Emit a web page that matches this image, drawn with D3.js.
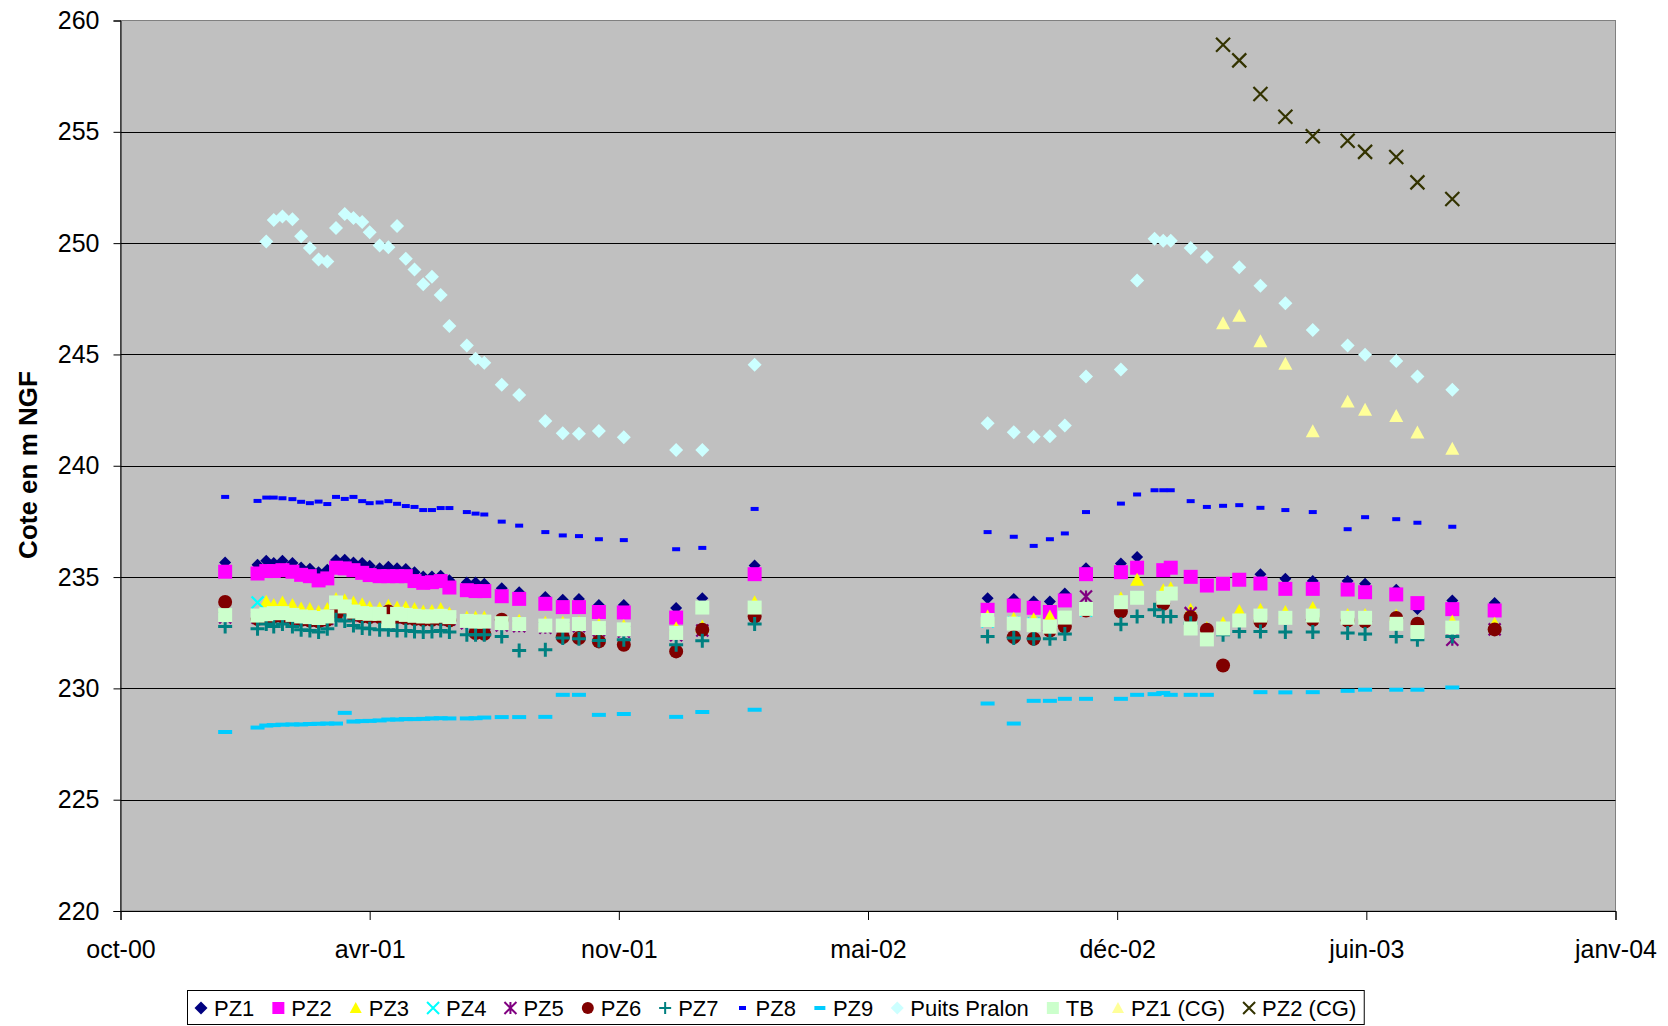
<!DOCTYPE html>
<html><head><meta charset="utf-8">
<script src="https://cdn.jsdelivr.net/npm/d3@7/dist/d3.min.js"></script>
<style>
body{margin:0;background:#fff}
svg{display:block}
text{font-family:"Liberation Sans",Arial,sans-serif;fill:#000}
</style>
</head><body>
<svg id="chart" width="1668" height="1026"></svg>
<script>
const _ = null;
const dates = [
"2000-12-24","2001-01-19","2001-01-26","2001-02-01","2001-02-08","2001-02-16","2001-02-23","2001-03-02","2001-03-09","2001-03-16",
"2001-03-23","2001-03-30","2001-04-06","2001-04-13","2001-04-19","2001-04-27","2001-05-04","2001-05-11","2001-05-18","2001-05-25",
"2001-06-01","2001-06-08","2001-06-15","2001-06-22","2001-07-06","2001-07-13","2001-07-20","2001-08-03","2001-08-17","2001-09-07",
"2001-09-21","2001-10-04","2001-10-20","2001-11-09","2001-12-21","2002-01-11","2002-02-22","2002-08-28","2002-09-18","2002-10-04",
"2002-10-17","2002-10-29","2002-11-15","2002-12-13","2002-12-26","2003-01-09","2003-01-16","2003-01-22","2003-02-07","2003-02-20",
"2003-03-05","2003-03-18","2003-04-04","2003-04-24","2003-05-16","2003-06-13","2003-06-27","2003-07-22","2003-08-08","2003-09-05",
"2003-10-09"];

const pz1 = [
235.65,235.55,235.73,235.63,235.73,235.63,235.43,235.37,235.22,235.33,
235.77,235.78,235.65,235.63,235.51,235.40,235.46,235.40,235.36,235.22,
235.03,235.03,235.06,234.86,234.76,234.76,234.70,234.50,234.32,234.11,
233.98,234.02,233.75,233.75,233.61,234.05,235.52,234.05,234.02,233.90,
233.90,234.26,235.40,235.61,235.90,_,_,_,_,_,
_,_,235.13,234.92,234.82,234.82,234.70,234.43,233.57,233.95,
233.83];
const pz2 = [
235.24,235.16,235.27,235.27,235.31,235.24,235.10,235.04,234.85,234.94,
235.42,235.39,235.31,235.19,235.09,235.04,235.04,235.04,235.04,234.82,
234.74,234.77,234.82,234.53,234.41,234.37,234.37,234.14,234.02,233.80,
233.65,233.65,233.43,233.41,233.18,_,235.13,233.53,233.72,233.62,
233.43,233.95,235.13,235.22,235.42,_,235.31,235.42,235.01,234.62,
234.70,234.88,234.71,234.47,234.47,234.44,234.32,234.22,233.83,233.56,
233.50];
const pz3 = [
_,_,233.89,233.74,233.86,233.74,233.59,233.56,233.44,233.56,
234.01,233.96,233.86,233.78,233.63,233.59,233.71,233.63,233.63,233.56,
233.45,233.48,233.56,233.36,233.18,233.18,233.18,233.00,233.04,232.95,
232.95,232.95,232.85,232.80,232.70,232.78,233.87,233.23,233.13,233.10,
233.23,_,_,234.05,234.88,_,234.41,234.50,233.53,232.71,
232.93,233.48,233.53,233.43,233.61,233.30,233.30,233.27,_,233.00,
232.90];
const pz4 = [
_,233.86,_,_,_,_,_,_,_,_,
_,233.55,_,_,_,_,_,_,_,_,
_,_,233.20,_,_,233.00,_,_,232.90,_,
_,_,232.70,_,232.50,_,_,233.00,232.95,232.90,
_,_,233.50,233.70,_,_,234.05,_,_,_,
_,_,_,_,_,_,_,_,_,232.70,
_];
const pz5 = [
233.19,233.17,233.23,233.28,233.28,233.20,233.13,233.10,233.06,233.13,
233.76,233.58,233.35,233.28,233.25,233.25,232.92,233.25,233.20,233.16,
233.13,233.13,233.16,233.10,232.93,232.90,232.90,232.83,232.79,232.72,
232.72,232.79,232.61,232.55,232.39,232.60,_,_,_,_,
_,_,234.13,_,_,_,_,_,233.38,_,
_,_,_,_,_,_,_,_,_,232.18,
232.65];
const pz6 = [
233.88,233.12,233.18,233.23,233.23,233.15,233.08,233.05,233.01,233.08,
233.30,233.53,233.30,233.23,233.20,233.20,233.45,233.20,233.15,233.11,
233.08,233.08,233.11,233.05,_,232.48,232.45,233.08,_,_,
232.30,232.26,232.11,231.96,231.66,232.63,233.23,_,232.30,232.23,
232.60,232.78,233.50,233.45,_,_,233.80,_,233.20,232.63,
231.03,_,233.00,_,233.08,233.05,233.00,233.16,232.90,_,
232.65];
const pz7 = [
232.78,232.68,232.89,232.78,232.89,232.78,232.63,232.60,232.53,232.68,
233.08,233.03,232.82,232.71,232.68,232.63,232.63,232.60,232.60,232.56,
232.53,232.56,232.60,232.53,232.41,232.41,232.41,232.33,231.70,231.73,
232.26,232.23,232.15,232.18,231.96,232.14,232.89,232.33,232.26,232.23,
232.23,232.44,_,232.88,233.23,233.53,233.23,233.23,232.93,_,
232.41,232.56,232.56,232.53,232.53,232.49,232.44,232.33,232.18,232.33,
_];
const pz8 = [
238.60,238.42,238.57,238.57,238.54,238.50,238.38,238.32,238.39,238.28,
238.60,238.51,238.60,238.41,238.32,238.35,238.41,238.29,238.19,238.15,
238.01,238.01,238.10,238.10,237.92,237.85,237.81,237.49,237.31,237.02,
236.87,236.84,236.70,236.66,236.25,236.31,238.06,237.02,236.81,236.40,
236.70,236.96,237.92,238.30,238.71,238.90,238.90,238.90,238.41,238.15,
238.20,238.23,238.11,238.01,237.92,237.15,237.69,237.60,237.44,237.26,
_];
const pz9 = [
228.04,228.24,228.33,228.35,228.37,228.38,228.38,228.40,228.41,228.42,
228.42,228.90,228.51,228.53,228.54,228.56,228.60,228.60,228.62,228.62,
228.63,228.65,228.66,228.65,228.65,228.66,228.69,228.71,228.71,228.72,
229.71,229.71,228.81,228.85,228.72,228.94,229.04,229.32,228.42,229.44,
229.44,229.53,229.53,229.53,229.71,229.74,229.79,229.71,229.71,229.71,
_,_,229.83,229.82,229.83,229.89,229.94,229.94,229.94,230.04,
_];
const puitsPralon = [
_,_,250.07,251.04,251.20,251.07,250.31,249.78,249.27,249.18,
250.68,251.31,251.13,250.95,250.49,249.89,249.81,250.77,249.30,248.81,
248.15,248.49,247.67,246.28,245.40,244.81,244.63,243.64,243.18,242.01,
241.46,241.44,241.56,241.28,240.71,240.71,244.54,241.91,241.51,241.30,
241.33,241.81,244.01,244.32,248.32,250.20,250.11,250.11,249.78,249.38,
_,248.92,248.09,247.30,246.10,245.40,244.99,244.71,244.01,243.41,
_];
const tb = [
233.29,233.27,233.33,233.38,233.38,233.30,233.23,233.20,233.16,233.23,
233.86,233.68,233.45,233.38,233.35,233.35,233.02,233.35,233.30,233.26,
233.23,233.23,233.26,233.20,233.03,233.00,233.00,232.93,232.89,232.82,
232.82,232.89,232.71,232.65,232.49,233.63,233.63,233.07,232.91,232.84,
232.77,233.18,233.57,233.87,234.07,_,234.07,234.26,232.69,232.20,
232.69,233.05,233.27,233.17,233.27,233.17,233.17,232.90,232.53,232.73,
_];
const pz1CG = [
_,_,_,_,_,_,_,_,_,_,
_,_,_,_,_,_,_,_,_,_,
_,_,_,_,_,_,_,_,_,_,
_,_,_,_,_,_,_,_,_,_,
_,_,_,_,_,_,_,_,_,_,
246.40,246.73,245.59,244.58,241.55,242.88,242.51,242.23,241.49,240.76,
_];
const pz2CG = [
_,_,_,_,_,_,_,_,_,_,
_,_,_,_,_,_,_,_,_,_,
_,_,_,_,_,_,_,_,_,_,
_,_,_,_,_,_,_,_,_,_,
_,_,_,_,_,_,_,_,_,_,
258.91,258.21,256.70,255.68,254.80,254.60,254.10,253.87,252.73,251.98,
_];

const seriesNames = ["PZ1","PZ2","PZ3","PZ4","PZ5","PZ6","PZ7","PZ8","PZ9","Puits Pralon","TB","PZ1 (CG)","PZ2 (CG)"];
const seriesValues = [pz1,pz2,pz3,pz4,pz5,pz6,pz7,pz8,pz9,puitsPralon,tb,pz1CG,pz2CG];
const yTicks = [220,225,230,235,240,245,250,255,260];
const xTickDates = ["2000-10-01","2001-04-19","2001-11-05","2002-05-24","2002-12-10","2003-06-28","2004-01-14"];
const monthsFr = ["janv","févr","mars","avr","mai","juin","juil","août","sept","oct","nov","déc"];
const yTitle = "Cote en m NGF";

// styles (not data)
const styles = [
  {shape:"diamond", color:"#000080", s:6},
  {shape:"square", color:"#FF00FF", s:7},
  {shape:"triangle", color:"#FFFF00", s:7},
  {shape:"x", color:"#00FFFF", s:6},
  {shape:"star", color:"#800080", s:6},
  {shape:"circle", color:"#800000", s:7},
  {shape:"plus", color:"#008080", s:7},
  {shape:"dash", color:"#0000FF", s:4},
  {shape:"dash", color:"#00CCFF", s:7},
  {shape:"diamond", color:"#CCFFFF", s:7},
  {shape:"square", color:"#CCFFCC", s:7},
  {shape:"triangle", color:"#FFFF99", s:7},
  {shape:"x", color:"#333300", s:7}
];

const parse = d3.utcParse("%Y-%m-%d");
const svg = d3.select("#chart");
const L = 120.5, R = 1615.5, T = 20.5, B = 911;
const x = d3.scaleUtc().domain([parse(xTickDates[0]), parse(xTickDates[xTickDates.length-1])]).range([L, R]);
const y = d3.scaleLinear().domain([220, 260]).range([B, T]);

// plot background
svg.append("rect").attr("x", L).attr("y", T).attr("width", R-L).attr("height", B-T)
  .attr("fill", "#C0C0C0").attr("stroke", "#808080").attr("stroke-width", 1);

// gridlines
svg.append("g").selectAll("line").data(yTicks.filter(v => v > 220 && v < 260)).join("line")
  .attr("x1", L).attr("x2", R)
  .attr("y1", d => Math.round(y(d)) + 0.5).attr("y2", d => Math.round(y(d)) + 0.5)
  .attr("stroke", "#000").attr("stroke-width", 1);

// axes
const yAxis = svg.append("g").attr("transform", `translate(${L},0)`)
  .call(d3.axisLeft(y).tickValues(yTicks).tickSize(7).tickPadding(14).tickFormat(d3.format("d")));
yAxis.select(".domain").attr("stroke", "#000");
yAxis.selectAll("text").attr("font-size", 25).attr("font-family", "Liberation Sans, Arial");

const xAxis = svg.append("g").attr("transform", `translate(0,${B})`)
  .call(d3.axisBottom(x).tickValues(xTickDates.map(parse)).tickSize(9).tickPadding(8)
    .tickFormat(d => monthsFr[d.getUTCMonth()] + "-" + d3.utcFormat("%y")(d)));
xAxis.select(".domain").attr("stroke", "#000");
xAxis.selectAll("text").attr("font-size", 25).attr("font-family", "Liberation Sans, Arial")
  .attr("dy", null).attr("y", 47);

// y title
svg.append("text").attr("transform", "translate(37,465) rotate(-90)")
  .attr("text-anchor", "middle").attr("font-size", 26).attr("font-weight", "bold").text(yTitle);

// marker generator
function markerPath(shape, s) {
  switch (shape) {
    case "diamond": return `M0,${-s}L${s},0L0,${s}L${-s},0Z`;
    case "square": return `M${-s},${-s}H${s}V${s}H${-s}Z`;
    case "triangle": return `M0,${-s}L${s},${s*0.85}L${-s},${s*0.85}Z`;
    case "circle": return d3.symbol(d3.symbolCircle, Math.PI*s*s)();
    case "x": return `M${-s},${-s}L${s},${s}M${-s},${s}L${s},${-s}`;
    case "plus": return `M${-s},0H${s}M0,${-s}V${s}`;
    case "star": return `M${-s},${-s}L${s},${s}M${-s},${s}L${s},${-s}M0,${-s}V${s}`;
    case "dash": return `M${-s},-2H${s}V2H${-s}Z`;
  }
}
function applyStyle(sel, st) {
  const stroked = (st.shape === "x" || st.shape === "plus" || st.shape === "star");
  if (stroked) {
    sel.attr("fill", "none").attr("stroke", st.color)
      .attr("stroke-width", st.shape === "plus" ? 3 : 2.2);
  } else {
    sel.attr("fill", st.color).attr("stroke", "none");
  }
}

const marks = svg.append("g");
seriesValues.forEach((vals, i) => {
  const st = styles[i];
  const pts = dates.map((d, k) => ({date: parse(d), v: vals[k]})).filter(p => p.v !== null);
  const sel = marks.append("g").selectAll("path").data(pts).join("path")
    .attr("d", markerPath(st.shape, st.s))
    .attr("transform", p => `translate(${x(p.date)},${y(p.v)})`);
  applyStyle(sel, st);
});

// legend
const lg = svg.append("g");
const lgBox = lg.append("rect").attr("fill", "#fff").attr("stroke", "#000").attr("stroke-width", 1);
let cx = 193;
seriesNames.forEach((name, i) => {
  const st = styles[i];
  let ms;
  if (st.shape === "dash") ms = (i === 7 ? 3.5 : 5.5);
  else if (st.shape === "diamond") ms = 6.5;
  else ms = 6;
  const p = lg.append("path").attr("d", markerPath(st.shape, ms))
    .attr("transform", `translate(${cx + 8},1008)`);
  applyStyle(p, st);
  if (st.shape === "plus" || st.shape === "x" || st.shape === "star") p.attr("stroke-width", 2);
  const t = lg.append("text").attr("x", cx + 21).attr("y", 1015.5).attr("font-size", 22).text(name);
  cx = cx + 21 + t.node().getComputedTextLength() + 16;
});
lgBox.attr("x", 187.5).attr("y", 990.5).attr("width", cx - 8 - 187.5).attr("height", 34);
</script>
</body></html>
